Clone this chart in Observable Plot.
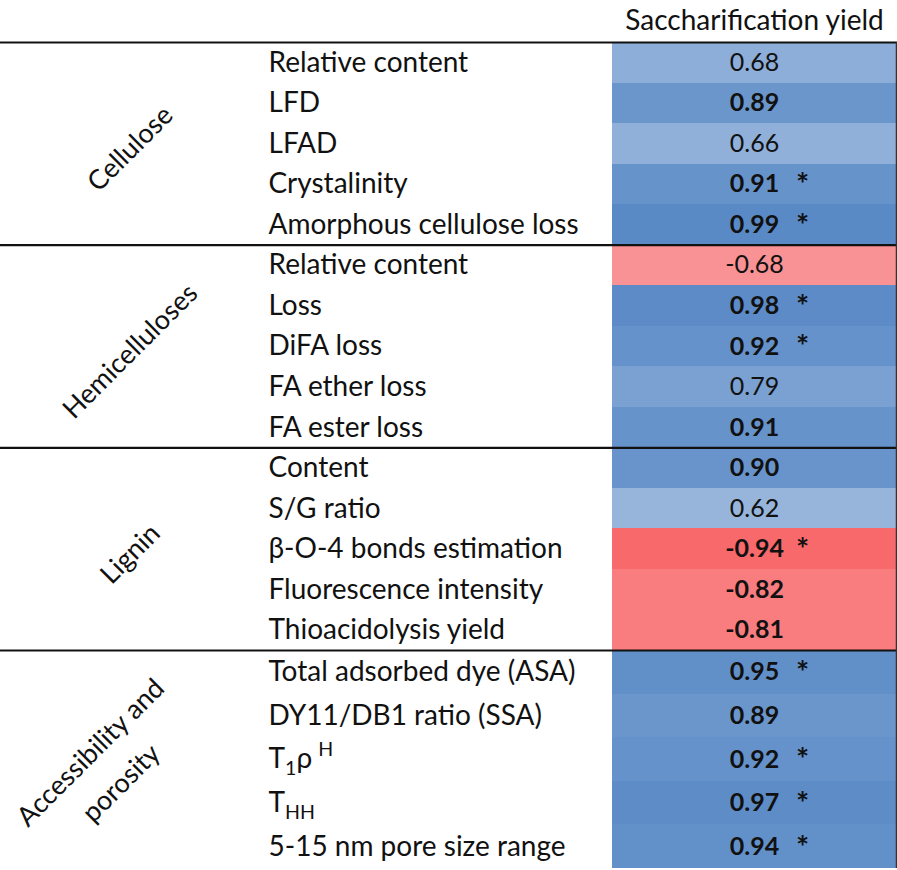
<!DOCTYPE html>
<html>
<head>
<meta charset="utf-8">
<script src="https://cdn.jsdelivr.net/npm/d3@7"></script>
<script src="https://cdn.jsdelivr.net/npm/@observablehq/plot@0.6"></script>
<style>
  html, body { margin: 0; padding: 0; background: #fff; }
</style>
</head>
<body>
<div id="chart"></div>
<script>
// ---- data ----
const columnTitle = "Saccharification yield";
const groups = ["Cellulose", "Hemicelluloses", "Lignin", "Accessibility and\nporosity"];
const groupSizes = [5, 5, 5, 5];
const labels = [
  "Relative content", "LFD", "LFAD", "Crystalinity", "Amorphous cellulose loss",
  "Relative content", "Loss", "DiFA loss", "FA ether loss", "FA ester loss",
  "Content", "S/G ratio", "β-O-4 bonds estimation", "Fluorescence intensity", "Thioacidolysis yield",
  "Total adsorbed dye (ASA)", "DY11/DB1 ratio (SSA)", "T_1ρ^H", "T_HH", "5-15 nm pore size range"
];
const values = [
  0.68, 0.89, 0.66, 0.91, 0.99,
  -0.68, 0.98, 0.92, 0.79, 0.91,
  0.90, 0.62, -0.94, -0.82, -0.81,
  0.95, 0.89, 0.92, 0.97, 0.94
];
const significant = [
  0, 0, 0, 1, 1,
  0, 1, 1, 0, 0,
  0, 0, 1, 0, 0,
  1, 0, 1, 1, 1
];
const bold = [
  0, 1, 0, 1, 1,
  0, 1, 1, 0, 1,
  1, 0, 1, 1, 1,
  1, 1, 1, 1, 1
];

// ---- derived tables ----
const rowGroup = groups.flatMap((g, k) => Array(groupSizes[k]).fill(g));
const rows = labels.map((label, i) => ({
  i, label, value: values[i], sig: !!significant[i], bold: !!bold[i], group: rowGroup[i]
}));
let start = 0;
const groupRows = groups.map((name, k) => {
  const r = { name, start, mid: start + groupSizes[k] / 2, multi: name.includes("\n") };
  start += groupSizes[k];
  return r;
});
const boundaries = groupRows.map(g => g.start);
const nRows = rows.length;

const FONT = "Lato, 'Open Sans', sans-serif";
const FS_LABEL = 28;
const FS_VALUE = 25;
const FS_GROUP = 27;

const chart = Plot.plot({
  width: 897,
  height: 870,
  marginTop: 0, marginBottom: 0, marginLeft: 0, marginRight: 0,
  style: { fontFamily: FONT, fontSize: FS_LABEL + "px", background: "#fff", color: "#000" },
  x: { type: "linear", domain: [0, 1], range: [612, 896], axis: null },
  y: { type: "linear", domain: [0, 15, 20], range: [42, 650, 868], axis: null },
  color: { type: "linear", domain: [-0.94, 0, 0.99], range: ["#F8696B", "#FCFCFF", "#5A8AC6"], interpolate: "rgb" },
  marks: [
    Plot.rect(rows, { x1: () => 0, x2: () => 1, y1: "i", y2: d => d.i + 1, fill: "value", shapeRendering: "crispEdges" }),
    // values
    Plot.text(rows, { filter: d => !d.bold, x: () => 0.5, y: d => d.i + 0.5, text: d => d.value.toFixed(2), fontSize: FS_VALUE, fill: "#111" }),
    Plot.text(rows, { filter: d => d.bold, x: () => 0.5, y: d => d.i + 0.5, text: d => d.value.toFixed(2), fontSize: FS_VALUE, fontWeight: "bold", fill: "#111" }),
    // significance asterisks
    Plot.text(rows, { filter: d => d.sig, x: () => 0.5, y: d => d.i + 0.5, dx: 48, dy: 1, text: () => "*", fontSize: 31, fontWeight: "bold", fill: "#111" }),
    // row labels
    Plot.text(rows, { y: d => d.i + 0.5, frameAnchor: "left", dx: 268, textAnchor: "start", text: "label", fontSize: FS_LABEL, fill: "#111" }),
    // group labels (rotated)
    Plot.text(groupRows, { filter: d => !d.multi, y: "mid", frameAnchor: "left", dx: 130, dy: 5, textAnchor: "middle", rotate: -45, text: "name", fontSize: FS_GROUP, fill: "#111" }),
    Plot.text(groupRows, { filter: d => d.multi, y: "mid", frameAnchor: "left", dx: 102, dy: 5, textAnchor: "middle", lineAnchor: "middle", rotate: -45, text: "name", fontSize: FS_GROUP, lineHeight: 1.6, fill: "#111" }),
    // header
    Plot.text([columnTitle], { x: () => 0.5, frameAnchor: "top", dy: 21, lineAnchor: "middle", text: d => d, fontSize: FS_LABEL, fill: "#111" }),
    // rules
    Plot.ruleY(boundaries, { stroke: "#111", strokeWidth: 2.2 }),
    Plot.ruleX([1], { y1: 0, y2: nRows, stroke: "#333", strokeWidth: 1.5 })
  ]
});

// Convert "_x" (subscript) and "^x" (superscript) markers into real tspans
d3.select(chart).selectAll("text").each(function () {
  const t = this.textContent;
  if (!/[_^]/.test(t) || this.childElementCount) return;
  const parts = t.match(/[_^][A-Za-z0-9]+|[^_^]+/g);
  const sel = d3.select(this);
  sel.text(null);
  let shift = 0;
  for (const p of parts) {
    let target = 0, txt = p, size = null, dx = 0;
    if (p[0] === "_") { target = 7; txt = p.slice(1); size = "70%"; }
    else if (p[0] === "^") { target = -12; txt = p.slice(1); size = "70%"; dx = 6; }
    const ts = sel.append("tspan").attr("dy", target - shift).text(txt);
    if (dx) ts.attr("dx", dx);
    if (size) ts.attr("font-size", size);
    shift = target;
  }
});

document.getElementById("chart").appendChild(chart);
</script>
</body>
</html>
